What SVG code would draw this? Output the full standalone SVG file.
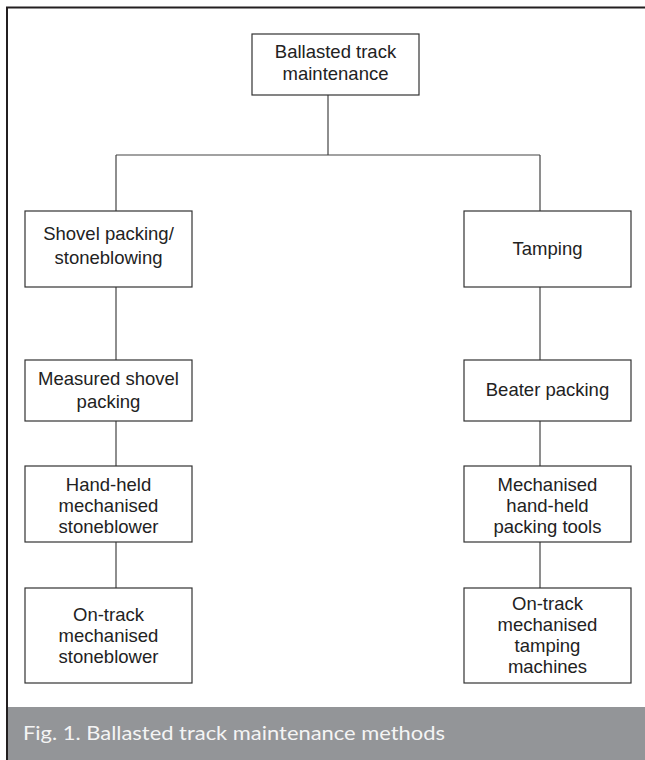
<svg xmlns="http://www.w3.org/2000/svg" width="645" height="760" viewBox="0 0 645 760">
<style>
.box{fill:#fff;stroke:#333;stroke-width:1.2}
.lbl{font-family:"Liberation Sans",Arial,sans-serif;font-size:18.5px;fill:#222;text-anchor:middle}
.conn{stroke:#444;stroke-width:1.2;fill:none}
.frame{stroke:#231f20;stroke-width:2;fill:none}
</style>
<rect width="645" height="760" fill="#fff"/>
<rect x="8" y="707" width="637" height="53" fill="#939598"/>
<path class="frame" d="M7 760 V7.5 H645"/>
<text x="23" y="740" font-family="Lato,'Open Sans',sans-serif" font-size="20" fill="#f4f4f4" textLength="422" lengthAdjust="spacingAndGlyphs">Fig. 1. Ballasted track maintenance methods</text>
<g id="connectors">
<path class="conn" d="M328 95 V155 M116 155 H540 M116 155 V211 M540 155 V211"/>
<path class="conn" d="M116 287 V360 M116 421 V466 M116 542 V588"/>
<path class="conn" d="M540 287 V360 M540 421 V466 M540 542 V588"/>
</g>
<g id="n-root"><rect class="box" x="252" y="34" width="167" height="61"/>
<text class="lbl" x="335.5" y="58">Ballasted track</text><text class="lbl" x="335.5" y="80">maintenance</text></g>
<g id="n-shovel"><rect class="box" x="25" y="211" width="167" height="76"/>
<text class="lbl" x="108.5" y="240">Shovel packing/</text><text class="lbl" x="108.5" y="264">stoneblowing</text></g>
<g id="n-tamping"><rect class="box" x="464" y="211" width="167" height="76"/>
<text class="lbl" x="547.5" y="255">Tamping</text></g>
<g id="n-measured"><rect class="box" x="25" y="360" width="167" height="61"/>
<text class="lbl" x="108.5" y="385">Measured shovel</text><text class="lbl" x="108.5" y="408">packing</text></g>
<g id="n-beater"><rect class="box" x="464" y="360" width="167" height="61"/>
<text class="lbl" x="547.5" y="396">Beater packing</text></g>
<g id="n-handheld"><rect class="box" x="25" y="466" width="167" height="76"/>
<text class="lbl" x="108.5" y="491">Hand-held</text><text class="lbl" x="108.5" y="512">mechanised</text><text class="lbl" x="108.5" y="533">stoneblower</text></g>
<g id="n-mechtools"><rect class="box" x="464" y="466" width="167" height="76"/>
<text class="lbl" x="547.5" y="491">Mechanised</text><text class="lbl" x="547.5" y="512">hand-held</text><text class="lbl" x="547.5" y="533">packing tools</text></g>
<g id="n-ontrack-blower"><rect class="box" x="25" y="588" width="167" height="95"/>
<text class="lbl" x="108.5" y="621">On-track</text><text class="lbl" x="108.5" y="642">mechanised</text><text class="lbl" x="108.5" y="663">stoneblower</text></g>
<g id="n-ontrack-tamping"><rect class="box" x="464" y="588" width="167" height="95"/>
<text class="lbl" x="547.5" y="610">On-track</text><text class="lbl" x="547.5" y="631">mechanised</text><text class="lbl" x="547.5" y="652">tamping</text><text class="lbl" x="547.5" y="673">machines</text></g>
</svg>
